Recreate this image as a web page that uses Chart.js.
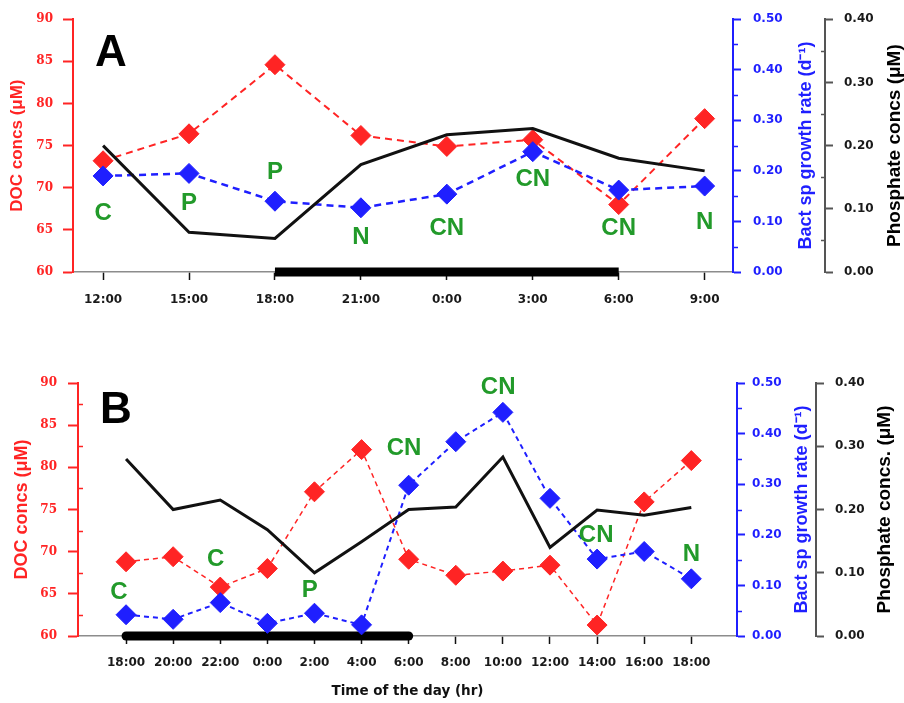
<!DOCTYPE html>
<html><head><meta charset="utf-8">
<script src="https://cdn.jsdelivr.net/npm/chart.js@4.4.1/dist/chart.umd.min.js"></script>
<style>
html,body{margin:0;padding:0;background:#fff;overflow:hidden;}
#wrapA{position:absolute;left:0;top:0;width:904px;height:320px;}
#wrapB{position:absolute;left:0;top:352px;width:904px;height:351px;}
</style></head><body>
<div id="wrapA"><canvas id="cA"></canvas></div>
<div id="wrapB"><canvas id="cB"></canvas></div>
<script>
// ---------- Panel A data ----------
const timesA = ['12:00','15:00','18:00','21:00','0:00','3:00','6:00','9:00'];
const docA   = [73.2, 76.4, 84.6, 76.2, 74.9, 75.7, 68.0, 78.2];
const bactA  = [0.19, 0.195, 0.14, 0.127, 0.154, 0.238, 0.162, 0.17];
const phosA  = [0.20, 0.063, 0.053, 0.17, 0.217, 0.227, 0.18, 0.16];
const nightA = [2, 6];                       // dark period (category index from, to)
const limitTextA  = ['C','P','P','N','CN','CN','CN','N'];
const limitAtA    = [0, 1, 2, 3, 4, 5, 6, 7];          // category index
const limitLevelA = [66.9, 68.1, 71.8, 64.1, 65.2, 71.0, 65.2, 65.9]; // DOC-axis level

// ---------- Panel B data ----------
const timesB = ['18:00','20:00','22:00','0:00','2:00','4:00','6:00','8:00','10:00','12:00','14:00','16:00','18:00'];
const docB   = [68.8, 69.4, 65.8, 68.0, 77.1, 82.1, 69.1, 67.2, 67.7, 68.4, 61.3, 75.9, 80.8];
const bactB  = [0.042, 0.033, 0.066, 0.025, 0.045, 0.022, 0.298, 0.384, 0.442, 0.272, 0.152, 0.167, 0.113];
const phosB  = [0.28, 0.20, 0.215, 0.168, 0.10, 0.149, 0.20, 0.204, 0.283, 0.14, 0.199, 0.191, 0.203];
const nightB = [0, 6];
const limitTextB  = ['C','C','P','CN','CN','CN','N'];
const limitAtB    = [-0.15, 1.9, 3.9, 5.9, 7.9, 9.98, 12];
const limitLevelB = [65.2, 69.1, 65.4, 82.2, 89.5, 71.9, 69.7];

const RED = '#ff2424', BLUE = '#1f1fff', BLK = '#111111', GREEN = '#229a2a', GREY = '#555555';

function pts(arr){ return arr.map((v,i)=>({x:i,y:v})); }

function build(canvasId, c){
  const deco = {
    id: 'deco'+canvasId,
    afterDatasetsDraw(chart){
      const ctx = chart.ctx, s = chart.scales, ca = chart.chartArea;
      ctx.save();
      // minor ticks
      c.minor.forEach(m=>{
        const sc = s[m.axis];
        ctx.strokeStyle = m.color; ctx.lineWidth = 1.5;
        for (let v = m.from; v < sc.max; v += m.step){
          const y = Math.round(sc.getPixelForValue(v)) + 0.5;
          const x0 = sc.position === 'left' ? sc.right : sc.left;
          const sign = (sc.position === 'left') === (m.dir === 'out') ? -1 : 1;
          ctx.beginPath(); ctx.moveTo(x0, y); ctx.lineTo(x0 + sign*m.len, y); ctx.stroke();
        }
      });
      // nutrient limitation labels
      ctx.fillStyle = GREEN; ctx.textAlign = 'center'; ctx.textBaseline = 'middle';
      ctx.font = 'bold 24px "Liberation Sans", Arial, sans-serif';
      c.limText.forEach((t,i)=>{
        ctx.fillText(t, s.x.getPixelForValue(c.limAt[i]), s.yDOC.getPixelForValue(c.limLevel[i]));
      });
      // panel letter
      ctx.fillStyle = '#000'; ctx.textAlign = 'left'; ctx.textBaseline = 'alphabetic';
      ctx.font = 'bold 44px "Liberation Sans", Arial, sans-serif';
      ctx.fillText(c.letter, ca.left + c.letterDX, ca.top + c.letterDY);
      // right-hand axis titles (reading bottom-to-top)
      const cy = (ca.top + ca.bottom)/2;
      [[s.yBact, c.bactTitle, BLUE, c.bactTitleDX, 18],[s.yPhos, c.phosTitle, '#000', c.phosTitleDX, 19]].forEach(([sc, txt, col, dx, fs])=>{
        ctx.save();
        ctx.translate(sc.right - dx, cy);
        ctx.rotate(-Math.PI/2);
        ctx.fillStyle = col; ctx.textAlign = 'center'; ctx.textBaseline = 'middle';
        ctx.font = 'bold ' + fs + 'px "Liberation Sans", Arial, sans-serif';
        ctx.fillText(txt, 0, 0);
        ctx.restore();
      });
      ctx.restore();
    }
  };

  const tickFont = {family:'DejaVu Sans', weight:'bold', size:12};
  return new Chart(document.getElementById(canvasId), {
    type: 'line',
    data: {
      datasets: [
        {label:'night', data:[{x:c.night[0],y:60},{x:c.night[1],y:60}], yAxisID:'yDOC',
         borderColor:'#000', borderWidth:9, borderCapStyle:c.cap, pointRadius:0, clip:false, order:3},
        {label:'DOC', data:pts(c.doc), yAxisID:'yDOC', borderColor:RED, backgroundColor:RED,
         borderWidth:c.lw[0], borderDash:c.dash, pointStyle:'rectRot', pointRadius:10,
         pointBackgroundColor:RED, pointBorderColor:RED, pointBorderWidth:1, clip:false, order:2},
        {label:'Bact', data:pts(c.bact), yAxisID:'yBact', borderColor:BLUE, backgroundColor:BLUE,
         borderWidth:c.lw[1], borderDash:c.dash, pointStyle:'rectRot', pointRadius:10,
         pointBackgroundColor:BLUE, pointBorderColor:BLUE, pointBorderWidth:1, clip:false, order:1},
        {label:'Phosphate', data:pts(c.phos), yAxisID:'yPhos', borderColor:BLK,
         borderWidth:c.lw[2], pointRadius:0, clip:false, order:0}
      ]
    },
    options: {
      responsive:true, maintainAspectRatio:false, animation:false, devicePixelRatio:1,
      layout:{padding:{top:c.padTop, left:0, right:0, bottom:0}},
      plugins:{legend:{display:false}, tooltip:{enabled:false}},
      scales:{
        x:{type:'linear', min:c.xmin, max:c.xmax,
           afterBuildTicks: sc => { sc.ticks = c.times.map((t,i)=>({value:i})); },
           ticks:{callback:(v)=>c.times[v] ?? '', autoSkip:false, maxRotation:0, color:'#1a1a1a',
                  font:{family:'DejaVu Sans', weight:'bold', size:12}, padding:c.xPad},
           grid:{drawOnChartArea:false, tickLength:8, tickColor:'#111', tickWidth:1.5},
           border:{color:'#8c8c8c', width:1.5},
           title:{display:!!c.xTitle, text:c.xTitle || '', color:'#111',
                  font:{family:'DejaVu Sans', weight:'bold', size:13.5}, padding:{top:0,bottom:3}},
           afterFit: sc => { sc.height = c.xh; }
        },
        yDOC:{position:'left', min:60, max:90,
           ticks:{stepSize:5, color:RED, font:{family:'DejaVu Serif', weight:'bold', size:12}, padding:c.redPad},
           grid:{drawOnChartArea:false, tickLength:10, tickColor:RED, tickWidth:2},
           border:{color:RED, width:2},
           title:{display:true, text:'DOC concs (μM)', color:RED,
                  font:{family:'Liberation Sans', weight:'bold', size:c.docTitleSize}, padding:{top:c.docTitlePad,bottom:0}},
           afterFit: sc => { sc.width = c.leftW; }
        },
        yBact:{position:'right', weight:0, min:0, max:0.5,
           ticks:{stepSize:0.1, callback:v=>v.toFixed(2), color:BLUE, font:tickFont, padding:c.bluePad},
           grid:{drawOnChartArea:false, tickLength:8, tickColor:BLUE, tickWidth:2},
           border:{color:BLUE, width:2},
           afterFit: sc => { sc.width = c.blueW; }
        },
        yPhos:{position:'right', weight:1, min:0, max:0.4,
           ticks:{stepSize:0.1, callback:v=>v.toFixed(2), color:'#1a1a1a', font:tickFont, padding:11},
           grid:{drawOnChartArea:false, tickLength:8, tickColor:GREY, tickWidth:2},
           border:{color:GREY, width:2},
           afterFit: sc => { sc.width = c.phosW; }
        }
      }
    },
    plugins:[deco]
  });
}

build('cA', {
  times:timesA, doc:docA, bact:bactA, phos:phosA, night:nightA, cap:'butt',
  limText:limitTextA, limAt:limitAtA, limLevel:limitLevelA,
  xmin:-0.35, xmax:7.33, padTop:16, xh:48, xPad:13, leftW:73, blueW:92, phosW:79,
  redPad:10, bluePad:12, docTitleSize:17, docTitlePad:7,
  lw:[2, 2.5, 3], dash:[7,5], letter:'A', letterDX:22, letterDY:47,
  bactTitle:'Bact sp growth rate (d⁻¹)', bactTitleDX:19,
  phosTitle:'Phosphate concs (μM)', phosTitleDX:9,
  minor:[{axis:'yBact', from:0.05, step:0.1, dir:'out', len:5, color:BLUE},
         {axis:'yPhos', from:0.05, step:0.1, dir:'in', len:4, color:GREY}]
});

build('cB', {
  times:timesB, doc:docB, bact:bactB, phos:phosB, night:nightB, cap:'round',
  limText:limitTextB, limAt:limitAtB, limLevel:limitLevelB,
  xmin:-1.02, xmax:12.97, padTop:31, xh:67, xPad:12, leftW:78, blueW:79, phosW:88,
  redPad:11, bluePad:7, docTitleSize:18, docTitlePad:11,
  lw:[1.5, 2, 3], dash:[5,4], letter:'B', letterDX:22, letterDY:40,
  xTitle:'Time of the day (hr)',
  bactTitle:'Bact sp growth rate (d⁻¹)', bactTitleDX:14,
  phosTitle:'Phosphate concs. (μM)', phosTitleDX:19,
  minor:[{axis:'yDOC', from:62.5, step:5, dir:'in', len:5, color:RED},
         {axis:'yBact', from:0.05, step:0.1, dir:'out', len:5, color:BLUE}]
});
</script>
</body></html>
